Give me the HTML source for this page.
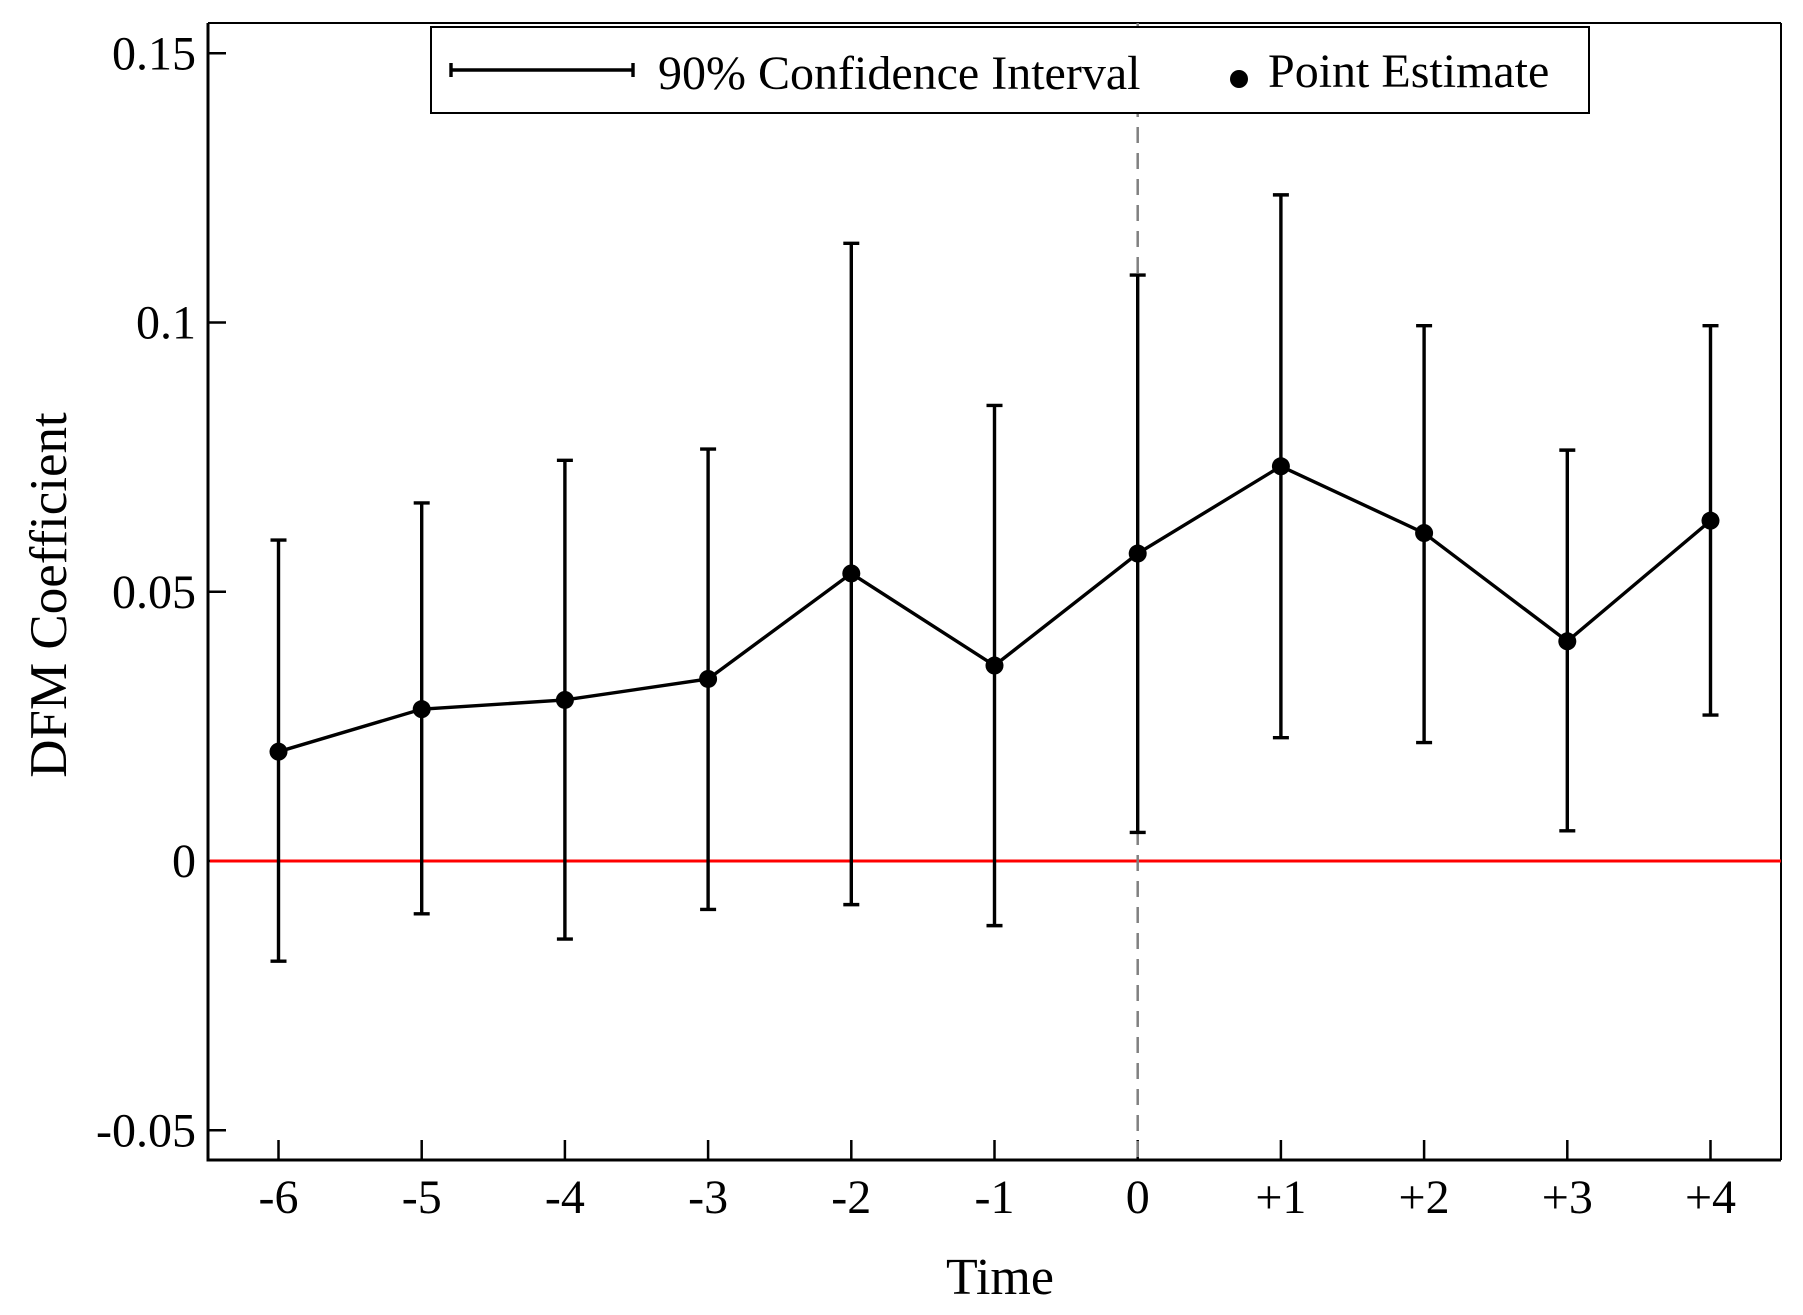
<!DOCTYPE html>
<html><head><meta charset="utf-8"><style>
html,body{margin:0;padding:0;background:#fff;}
svg{display:block;font-family:"Liberation Serif",serif;}
</style></head><body>
<svg id="chart" width="1803" height="1315" viewBox="0 0 1803 1315" xmlns="http://www.w3.org/2000/svg">
<g id="layer"></g>
</svg>
<script>
const categories = ["-6","-5","-4","-3","-2","-1","0","+1","+2","+3","+4"];
const pointEstimates = [0.0203,0.0282,0.0299,0.0338,0.0534,0.0363,0.0571,0.0733,0.0609,0.0408,0.0632];
const ciLower = [-0.0186,-0.0098,-0.0145,-0.0090,-0.0081,-0.0120,0.0053,0.0229,0.0220,0.0056,0.0271];
const ciUpper = [0.0596,0.0665,0.0744,0.0765,0.1147,0.0846,0.1088,0.1237,0.0994,0.0763,0.0994];
const yTicks = [-0.05,0,0.05,0.1,0.15];
const yTickLabels = ["-0.05","0","0.05","0.1","0.15"];

const NS="http://www.w3.org/2000/svg";
const g=document.getElementById('layer');
const L=208,R=1781,T=23,B=1160;
const x0=278.5,dx=143.2;
function xs(i){return x0+i*dx;}
function ys(v){return 861 - v*5385;}
function mk(tag,attrs,parent){const e=document.createElementNS(NS,tag);for(const k in attrs)e.setAttribute(k,attrs[k]);(parent||g).appendChild(e);return e;}

let e=mk('line',{x1:L,y1:T,x2:L,y2:B,stroke:'#000','stroke-width':3});


e=mk('line',{x1:L-1.5,y1:B,x2:R,y2:B,stroke:'#000','stroke-width':3});


e=mk('line',{x1:L,y1:T,x2:R,y2:T,stroke:'#000','stroke-width':2});


e=mk('line',{x1:R,y1:T,x2:R,y2:B,stroke:'#000','stroke-width':2});



yTicks.forEach((v,i)=>{
  let t=mk('line',{x1:L,y1:ys(v),x2:L+18,y2:ys(v),stroke:'#000','stroke-width':2.5});
  
  
  let tx=mk('text',{x:196,y:ys(v)+16,'text-anchor':'end','font-size':48});
  tx.textContent=yTickLabels[i];
  
  
});
categories.forEach((c,i)=>{
  let t=mk('line',{x1:xs(i),y1:B,x2:xs(i),y2:B-20,stroke:'#000','stroke-width':2.5});
  
  
  let tx=mk('text',{x:xs(i),y:1213,'text-anchor':'middle','font-size':48});
  tx.textContent=c;
  
  
});

e=mk('line',{x1:L+2,y1:ys(0),x2:R,y2:ys(0),stroke:'#ff0000','stroke-width':3});


const zi=categories.indexOf("0");
e=mk('line',{x1:xs(zi),y1:T,x2:xs(zi),y2:B,stroke:'#808080','stroke-width':2.5,'stroke-dasharray':'16,10'});



categories.forEach((c,i)=>{
  const x=xs(i);
  let ci=mk('path',{d:`M${x},${ys(ciLower[i])}V${ys(ciUpper[i])}M${x-8},${ys(ciLower[i])}H${x+8}M${x-8},${ys(ciUpper[i])}H${x+8}`,stroke:'#000','stroke-width':3.4,fill:'none'});
  
  
});
let d=pointEstimates.map((v,i)=>(i?'L':'M')+xs(i)+','+ys(v)).join('');
e=mk('path',{d:d,stroke:'#000','stroke-width':3.4,fill:'none'});


pointEstimates.forEach((v,i)=>{
  let p=mk('circle',{cx:xs(i),cy:ys(v),r:9,fill:'#000'});
  
  
});

const lg=mk('g',{});


e=mk('rect',{x:431,y:27,width:1158,height:86,fill:'#fff',stroke:'#000','stroke-width':2},lg);


e=mk('path',{d:'M451,70H633M451,63V77M633,63V77',stroke:'#000','stroke-width':3.4,fill:'none'},lg);


e=mk('text',{x:658,y:89,'font-size':48},lg);
e.textContent='90% Confidence Interval';


e=mk('circle',{cx:1239,cy:79,r:9,fill:'#000'},lg);


e=mk('text',{x:1268,y:87,'font-size':48},lg);
e.textContent='Point Estimate';



e=mk('text',{x:1000,y:1294,'text-anchor':'middle','font-size':52});
e.textContent='Time';


e=mk('text',{x:0,y:0,'text-anchor':'middle','font-size':53,transform:'translate(66,595) rotate(-90)'});
e.textContent='DFM Coefficient';


</script>
</body></html>
